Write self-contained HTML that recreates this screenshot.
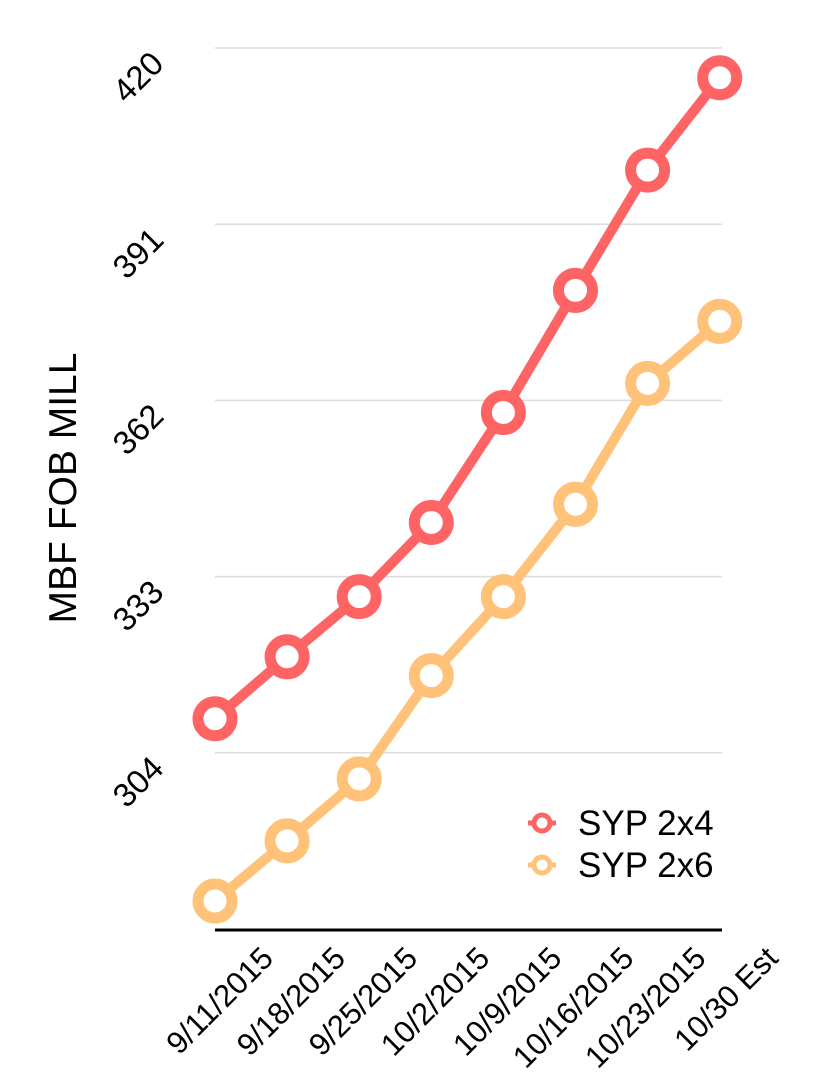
<!DOCTYPE html>
<html><head><meta charset="utf-8"><style>
body{margin:0;background:#fff}
svg{display:block;font-family:"Liberation Sans",Arial,sans-serif}
</style></head><body>
<svg id="chart" width="824" height="1078" xmlns="http://www.w3.org/2000/svg">
<g id="grid"></g>
<g id="yticks"></g>
<text transform="translate(76,488) rotate(-90)" text-anchor="middle" font-size="39">MBF FOB MILL</text>
<line x1="215" x2="722" y1="930" y2="930" stroke="#000" stroke-width="3"/>
<g id="xticks"></g>
<g id="series"></g>
<g>
<g>
<line x1="528" x2="556" y1="823" y2="823" stroke="#ff6464" stroke-width="5"/>
<circle cx="542" cy="823" r="8" fill="#fff" stroke="#ff6464" stroke-width="5"/>
<text x="578" y="835" font-size="35">SYP 2x4</text></g>
<g>
<line x1="528" x2="556" y1="865" y2="865" stroke="#ffc278" stroke-width="5"/>
<circle cx="542" cy="865" r="8" fill="#fff" stroke="#ffc278" stroke-width="5"/>
<text x="578" y="877" font-size="35">SYP 2x6</text></g>
</g>
</svg>
<script>
const categories=["9/11/2015","9/18/2015","9/25/2015","10/2/2015","10/9/2015","10/16/2015","10/23/2015","10/30 Est"];
const syp2x4=[309.6,319.8,329.7,341.9,360,380.1,399.9,415.1];
const syp2x6=[279.6,289.5,299.7,316.7,329.7,344.9,364.8,375];
const yTicks=[304,333,362,391,420];
const NS="http://www.w3.org/2000/svg";
const x0=215,dx=72.1;
function xs(i){return x0+i*dx;}
function ys(v){return 48+(420-v)*(176.2/29);}
function mk(t,a,p){const e=document.createElementNS(NS,t);for(const k in a)e.setAttribute(k,a[k]);p.appendChild(e);return e;}
const grid=document.getElementById('grid'),yt=document.getElementById('yticks'),xt=document.getElementById('xticks'),ser=document.getElementById('series');
yTicks.forEach(v=>{
const l=mk('line',{x1:215,x2:722,y1:ys(v),y2:ys(v),stroke:'#dcdcdc','stroke-width':1.5},grid);


const t=mk('text',{transform:`translate(146,${ys(v)+37}) rotate(-45)`,'text-anchor':'middle','font-size':33},yt);
t.textContent=v;


});
categories.forEach((c,i)=>{
const t=mk('text',{transform:`translate(${xs(i)+60},${960}) rotate(-45)`,'text-anchor':'end','font-size':31},xt);
t.textContent=c;


});
[[syp2x6,'#ffc278','syp-2x6'],[syp2x4,'#ff6464','syp-2x4']].forEach(([d,col,n])=>{
const g=mk('g',{},ser);


const p=mk('polyline',{points:d.map((v,i)=>xs(i)+','+ys(v)).join(' '),fill:'none',stroke:col,'stroke-width':10,'stroke-linejoin':'round'},g);


d.forEach((v,i)=>{
const c=mk('circle',{cx:xs(i),cy:ys(v),r:17,fill:'#fff',stroke:col,'stroke-width':11},g);


});
});
</script>
</body></html>
